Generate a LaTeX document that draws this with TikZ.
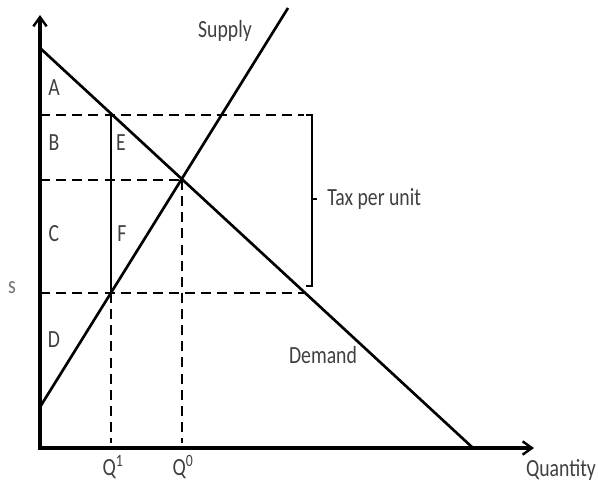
\documentclass[tikz,border=0pt]{standalone}
\usepackage{fontspec}
\setmainfont{Carlito}[FakeStretch=0.8]
\usetikzlibrary{arrows.meta}
\begin{document}
\begin{tikzpicture}[
  x=0.75pt, y=-0.75pt,
  font=\fontsize{18.5}{21}\selectfont,
  lbl/.style={text=black!75, inner sep=0pt},
  curve/.style={line width=2pt},
  axis/.style={line width=2.3pt, {Straight Barb[length=7pt,width=10pt,line width=1.8pt]}-{Straight Barb[length=7pt,width=10pt,line width=1.8pt]}},
  guide/.style={line width=2pt, dash pattern=on 7.5pt off 4.6pt}
]
\useasboundingbox (0,0) rectangle (598,486);

% axes
\coordinate (O) at (40,448);
\coordinate (ytop) at (40,15);
\coordinate (xend) at (534,448);
\draw[axis] (ytop) -- (O) -- (xend);

% demand and supply
\coordinate (dtop) at (40,48);
\coordinate (dbot) at (473,448);
\coordinate (sbot) at (40,407);
\coordinate (stop) at (288,8);
\draw[curve] (dtop) -- (dbot);
\draw[curve] (sbot) -- (stop);

% price levels and quantities
\coordinate (pd) at (40,115);
\coordinate (pdend) at (304,115);
\coordinate (p0) at (40,180);
\coordinate (eq) at (182,180);
\coordinate (ps) at (40,293);
\coordinate (psend) at (304,293);
\coordinate (e1) at (111,115);
\coordinate (f1) at (111,293);
\coordinate (q1) at (111,443);
\coordinate (q0) at (182,443);
\draw[guide] (pd) -- (pdend);
\draw[guide] (p0) -- (eq);
\draw[guide] (ps) -- (psend);
\draw[guide] (f1) -- (q1);
\draw[guide] (eq) -- (q0);
\draw[curve] (e1) -- (f1);

% tax bracket
\coordinate (bt) at (312,115);
\coordinate (bb) at (312,286);
\coordinate (bm) at (312,199);
\draw[line width=1.5pt] (306,115) -- (bt) -- (bb) -- (306,286);
\draw[line width=1.5pt] (bm) -- ++(5,0);
\node[lbl, anchor=west] (tax) at (327,199) {Tax per unit};

% area labels
\node[lbl] (la) at (54,88) {A};
\node[lbl] (lb) at (54,143) {B};
\node[lbl] (lc) at (54,234) {C};
\node[lbl] (ld) at (54,340) {D};
\node[lbl] (le) at (121,143) {E};
\node[lbl] (lf) at (122,234) {F};

% curve and axis labels
\node[lbl] (sup) at (225,31) {Supply};
\node[lbl] (dem) at (323,355) {Demand};
\node[lbl] (lq1) at (113,467) {Q\textsuperscript{1}};
\node[lbl] (lq0) at (183,467) {Q\textsuperscript{0}};
\node[lbl] (qty) at (561,470) {Quantity};
\node[lbl, text=black!55] (cut) at (12,288) {s};
\end{tikzpicture}
\end{document}
